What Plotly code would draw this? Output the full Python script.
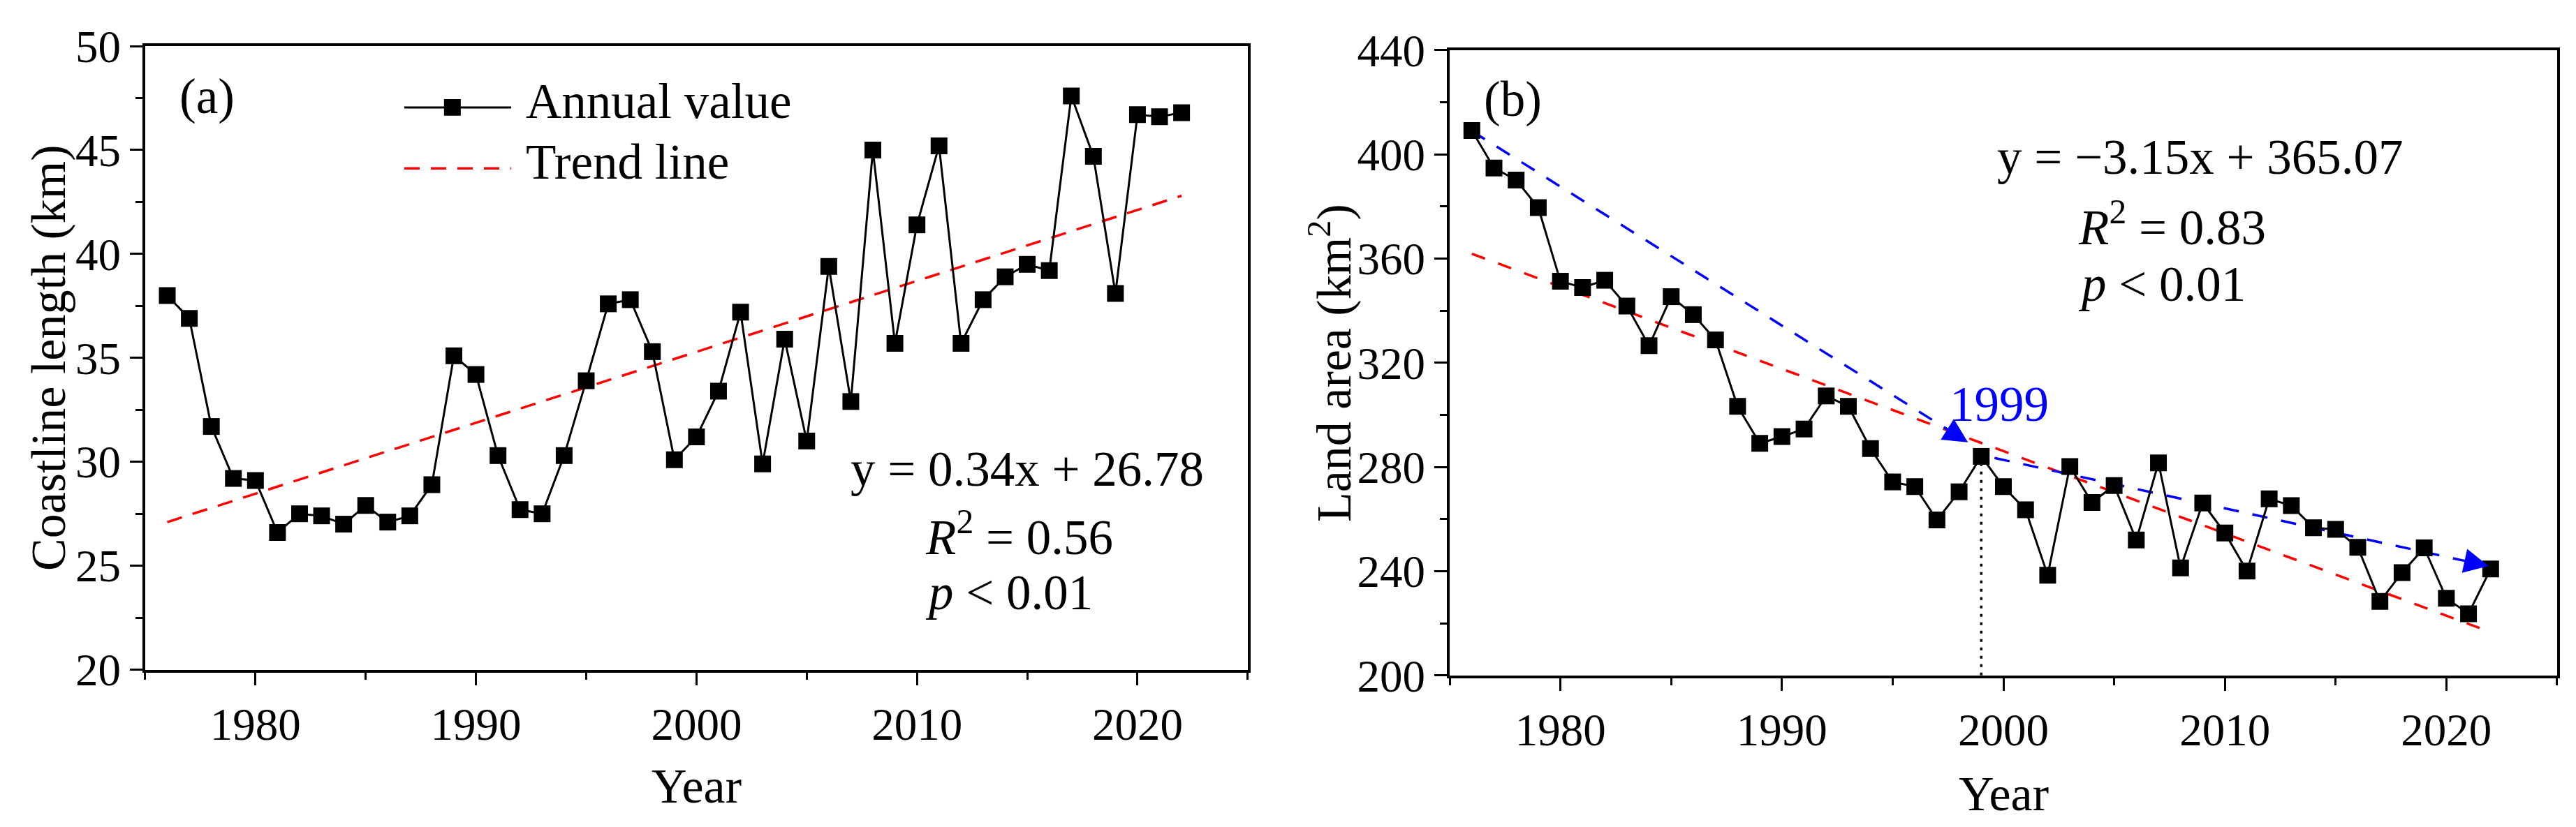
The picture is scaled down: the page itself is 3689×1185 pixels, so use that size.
import plotly.graph_objects as go

FONT = "Liberation Serif"
W, H = 3689, 1185

years = list(range(1976, 2023))

# (a) coastline length, km
coastline_km = [38.0, 36.9, 31.7, 29.2, 29.1, 26.6, 27.5, 27.4, 27.0, 27.9,
                27.1, 27.4, 28.9, 35.1, 34.2, 30.3, 27.7, 27.5, 30.3, 33.9,
                37.6, 37.8, 35.3, 30.1, 31.2, 33.4, 37.2, 29.9, 35.9, 31.0,
                39.4, 32.9, 45.0, 35.7, 41.4, 45.2, 35.7, 37.8, 38.9, 39.5,
                39.2, 47.6, 44.7, 38.1, 46.7, 46.6, 46.8]

# (b) land area, km2
land_area_km2 = [409.2, 394.8, 390.2, 379.6, 351.3, 348.9, 351.7, 341.8, 326.6, 345.4,
                 338.5, 328.8, 303.3, 289.1, 291.7, 294.6, 307.3, 303.3, 287.1, 274.3,
                 272.5, 259.7, 270.5, 284.1, 272.5, 263.6, 238.5, 280.2, 266.4, 272.9,
                 252.0, 281.6, 241.3, 266.2, 254.7, 240.1, 267.8, 265.2, 256.7, 256.1,
                 249.2, 228.4, 239.5, 249.0, 229.6, 223.7, 240.9]

# trend line end points
trend_a_years = [1976, 2022]
trend_a_vals = [27.1, 42.8]
trend_b_years = [1976, 2021.5]
trend_b_vals = [361.9, 218.2]

# the two blue phase arrows in (b)
phase_years = [[1976, 1998.4], [1999.6, 2021.9]]
phase_vals = [[409.0, 289.5], [283.5, 242.0]]
turn_year = 1999

fig = go.Figure()

# ---- panel (a)
fig.add_trace(go.Scatter(x=trend_a_years, y=trend_a_vals, mode="lines",
                         line=dict(color="#FF0000", width=3.5, dash="22px,16px"),
                         xaxis="x", yaxis="y"))
fig.add_trace(go.Scatter(x=years, y=coastline_km, mode="lines+markers",
                         line=dict(color="black", width=3),
                         marker=dict(symbol="square", size=24, color="black"),
                         xaxis="x", yaxis="y"))

# ---- panel (b)
fig.add_trace(go.Scatter(x=trend_b_years, y=trend_b_vals, mode="lines",
                         line=dict(color="#FF0000", width=3.5, dash="20px,20px"),
                         xaxis="x2", yaxis="y2"))
for xs, ys in zip(phase_years, phase_vals):
    fig.add_trace(go.Scatter(x=xs, y=ys, mode="lines",
                             line=dict(color="#0000FF", width=3.5, dash="22px,20px"),
                             xaxis="x2", yaxis="y2"))
turn_val = land_area_km2[years.index(turn_year)]
fig.add_trace(go.Scatter(x=[turn_year, turn_year], y=[200, turn_val], mode="lines",
                         line=dict(color="black", width=3.5, dash="4px,8px"),
                         xaxis="x2", yaxis="y2"))
fig.add_trace(go.Scatter(x=years, y=land_area_km2, mode="lines+markers",
                         line=dict(color="black", width=3),
                         marker=dict(symbol="square", size=24, color="black"),
                         xaxis="x2", yaxis="y2"))

tick_font = dict(family=FONT, size=65, color="black")
title_font = dict(family=FONT, size=70, color="black")

xaxis_style = dict(range=[1975, 2025], tick0=1980, dtick=10, automargin=False,
                   ticks="outside", ticklen=18, tickwidth=3, tickcolor="black",
                   minor=dict(dtick=5, ticks="outside", ticklen=10, tickwidth=3, tickcolor="black"),
                   showline=True, linewidth=4, linecolor="black", mirror=True,
                   showgrid=False, zeroline=False, tickfont=tick_font)
yaxis_style = dict(ticks="outside", ticklen=18, tickwidth=3, tickcolor="black", automargin=False,
                   showline=True, linewidth=4, linecolor="black", mirror=True,
                   showgrid=False, zeroline=False, tickfont=tick_font)

fig.update_layout(
    width=W, height=H,
    margin=dict(l=0, r=0, t=0, b=0),
    paper_bgcolor="white", plot_bgcolor="white",
    showlegend=False,
    xaxis=dict(domain=[0.0542, 0.4822], anchor="y", **xaxis_style),
    yaxis=dict(domain=[0.197, 0.951], anchor="x", range=[20, 50], dtick=5,
               minor=dict(dtick=2.5, ticks="outside", ticklen=10, tickwidth=3, tickcolor="black"),
               **yaxis_style),
    xaxis2=dict(domain=[0.5606, 0.9905], anchor="y2", **xaxis_style),
    yaxis2=dict(domain=[0.19, 0.946], anchor="x2", range=[200, 440], dtick=40,
                minor=dict(dtick=20, ticks="outside", ticklen=10, tickwidth=3, tickcolor="black"),
                **yaxis_style),
)

SHIFT = 9


def note(x, y, text, ref="", anchor="center", color="black"):
    return dict(x=x, y=y, xref="x" + ref, yref="y" + ref, xanchor=anchor, text=text,
                showarrow=False, yshift=SHIFT, font=dict(family=FONT, size=71, color=color))


annotations = [
    note(1977.8, 47.25, "(a)"),
    note(2015.0, 29.36, "y = 0.34x + 26.78"),
    note(2010.3, 26.26, "<i>R</i><sup>2</sup> = 0.56", anchor="left"),
    note(2010.3, 23.4, "<i>p</i> &lt; 0.01", anchor="left"),
    note(1992.2, 47.05, "Annual value", anchor="left"),
    note(1992.2, 44.12, "Trend line", anchor="left"),
    note(1977.85, 418.7, "(b)", ref="2"),
    note(2008.9, 396.5, "y = \u22123.15x + 365.07", ref="2"),
    note(2003.3, 371.1, "<i>R</i><sup>2</sup> = 0.83", ref="2", anchor="left"),
    note(2003.3, 347.8, "<i>p</i> &lt; 0.01", ref="2", anchor="left"),
    note(1999.8, 301.7, str(turn_year), ref="2", color="#0000FF"),
    # axis titles
    dict(x=61 / W, y=1 - 505 / H, xref="paper", yref="paper", text="Coastline length (km)",
         textangle=-90, showarrow=False, xanchor="center", yanchor="middle", font=title_font),
    dict(x=1897 / W, y=1 - 512 / H, xref="paper", yref="paper", text="Land area (km<sup>2</sup>)",
         textangle=-90, showarrow=False, xanchor="center", yanchor="middle", font=title_font),
    dict(x=0.2682, y=1 - 1118 / H, xref="paper", yref="paper", text="Year",
         showarrow=False, xanchor="center", yanchor="middle", font=title_font),
    dict(x=0.7756, y=1 - 1129 / H, xref="paper", yref="paper", text="Year",
         showarrow=False, xanchor="center", yanchor="middle", font=title_font),
]

# arrow heads at the ends of the blue phase lines
for xs, ys in zip(phase_years, phase_vals):
    annotations.append(dict(
        x=xs[1], y=ys[1], ax=xs[1] - 0.05 * (xs[1] - xs[0]), ay=ys[1] - 0.05 * (ys[1] - ys[0]),
        xref="x2", yref="y2", axref="x2", ayref="y2", text="", showarrow=True,
        arrowhead=2, arrowsize=2, arrowwidth=3.5, arrowcolor="#0000FF", standoff=0))

fig.update_layout(annotations=annotations)

# legend samples for panel (a)
fig.add_shape(type="line", xref="x", yref="y", x0=1986.75, x1=1991.6, y0=47.05, y1=47.05,
              line=dict(color="black", width=3))
fig.add_shape(type="rect", xref="x", yref="y", x0=1988.55, x1=1989.31, y0=46.65, y1=47.45,
              fillcolor="black", line=dict(width=0))
fig.add_shape(type="line", xref="x", yref="y", x0=1986.75, x1=1991.6, y0=44.12, y1=44.12,
              line=dict(color="#FF0000", width=3.5, dash="22px,16px"))

fig.write_html("out.html")
